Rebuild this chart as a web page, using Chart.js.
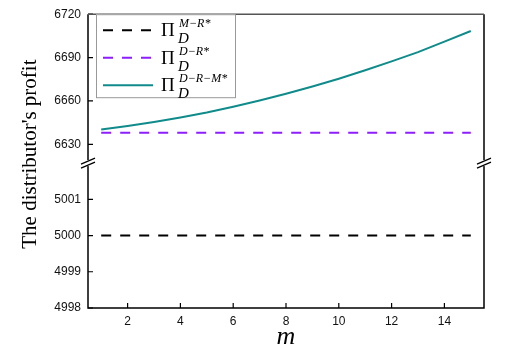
<!DOCTYPE html>
<html>
<head>
<meta charset="utf-8">
<script src="https://cdn.jsdelivr.net/npm/chart.js@4"></script>
<style>
    html, body { margin: 0; padding: 0; background: #fff; }
</style>
</head>
<body>
<canvas id="profitChart" width="506" height="361"></canvas>
<script>
// data
const mValues = [1, 2, 3, 4, 5, 6, 7, 8, 9, 10, 11, 12, 13, 14, 15];
const profitMR = [5000, 5000, 5000, 5000, 5000, 5000, 5000, 5000, 5000, 5000, 5000, 5000, 5000, 5000, 5000];
const profitDR = [6638, 6638, 6638, 6638, 6638, 6638, 6638, 6638, 6638, 6638, 6638, 6638, 6638, 6638, 6638];
const profitDRM = [6640.2, 6642.6, 6645.4, 6648.6, 6652.0, 6656.0, 6660.3, 6665.0, 6670.0, 6675.4, 6681.2, 6687.4, 6693.8, 6701.0, 6708.4];

const seriesSup = ['M\u2212R*', 'D\u2212R*', 'D\u2212R\u2212M*'];
const upperTicks = [6630, 6660, 6690, 6720];
const lowerTicks = [4998, 4999, 5000, 5001];
const xTicks = [2, 4, 6, 8, 10, 12, 14];

const tickFont = { family: '"Liberation Sans", Arial, sans-serif', size: 12 };
const serif = '"Liberation Serif", "Times New Roman", serif';

function points(ys) {
    return mValues.map((m, i) => ({ x: m, y: ys[i] }));
}

// frame, inward ticks, axis breaks, legend and y title
const decorPlugin = {
    id: 'decor',
    afterDraw(chart) {
        const ctx = chart.ctx;
        const area = chart.chartArea;
        const sx = chart.scales.x, yHi = chart.scales.yHigh, yLo = chart.scales.yLow;
        ctx.save();

        // inward tick marks
        ctx.strokeStyle = '#000';
        ctx.lineWidth = 1.2;
        ctx.beginPath();
        xTicks.forEach(v => {
            const px = sx.getPixelForValue(v);
            ctx.moveTo(px, area.bottom);
            ctx.lineTo(px, area.bottom - 5);
        });
        upperTicks.forEach(v => {
            const py = yHi.getPixelForValue(v);
            ctx.moveTo(area.left, py);
            ctx.lineTo(area.left + 5, py);
        });
        lowerTicks.forEach(v => {
            const py = yLo.getPixelForValue(v);
            ctx.moveTo(area.left, py);
            ctx.lineTo(area.left + 5, py);
        });
        ctx.stroke();

        // frame
        ctx.lineWidth = 1.5;
        ctx.strokeStyle = '#000';
        ctx.beginPath();
        ctx.moveTo(area.left, area.top);
        ctx.lineTo(area.left, area.bottom);
        ctx.lineTo(area.right, area.bottom);
        ctx.lineTo(area.right, area.top);
        ctx.stroke();
        ctx.strokeStyle = '#555';
        ctx.beginPath();
        ctx.moveTo(area.left, area.top);
        ctx.lineTo(area.right, area.top);
        ctx.stroke();

        // axis breaks
        const by = yHi.bottom;
        [area.left, area.right].forEach(bx => {
            ctx.fillStyle = '#fff';
            ctx.fillRect(bx - 3, by - 3, 6, 6);
            ctx.strokeStyle = '#000';
            ctx.lineWidth = 1.2;
            ctx.beginPath();
            ctx.moveTo(bx - 7, by + 1);
            ctx.lineTo(bx + 7, by - 5);
            ctx.moveTo(bx - 7, by + 5);
            ctx.lineTo(bx + 7, by - 1);
            ctx.stroke();
        });

        // legend
        const lx = area.left + 8, ly = area.top;
        ctx.fillStyle = '#fff';
        ctx.fillRect(lx, ly, 139, 83);
        ctx.strokeStyle = '#999';
        ctx.lineWidth = 1;
        ctx.strokeRect(lx + 0.5, ly + 0.5, 139, 83);
        chart.data.datasets.forEach((ds, i) => {
            const ry = ly + 16 + i * 27.5;
            ctx.strokeStyle = ds.borderColor;
            ctx.lineWidth = 2;
            ctx.setLineDash(ds.borderDash || []);
            ctx.beginPath();
            ctx.moveTo(lx + 7, ry);
            ctx.lineTo(lx + 57, ry);
            ctx.stroke();
            ctx.setLineDash([]);
            ctx.fillStyle = '#000';
            ctx.textAlign = 'left';
            ctx.textBaseline = 'alphabetic';
            ctx.font = '19px ' + serif;
            ctx.fillText('\u03A0', lx + 65, ry + 6);
            ctx.font = 'italic 12px ' + serif;
            ctx.fillText(seriesSup[i], lx + 83, ry - 3);
            ctx.font = 'italic 15px ' + serif;
            ctx.fillText('D', lx + 82, ry + 13);
        });

        // y title
        ctx.translate(30, (area.top + area.bottom) / 2 - 7);
        ctx.rotate(-Math.PI / 2);
        ctx.fillStyle = '#000';
        ctx.textAlign = 'center';
        ctx.textBaseline = 'middle';
        ctx.font = '21px ' + serif;
        ctx.fillText("The distributor's profit", 0, 0);
        ctx.restore();
    }
};

const yCommon = {
    type: 'linear',
    position: 'left',
    stack: 'y',
    grid: { display: false, drawTicks: false },
    border: { display: false },
    ticks: { padding: 7, color: '#111', font: tickFont, callback: v => String(v) },
    afterFit: s => { s.width = 40; }
};

const ctx = document.getElementById('profitChart').getContext('2d');
const profitChart = new Chart(ctx, {
    type: 'line',
    data: {
        datasets: [{
            label: '\u03A0_D^{M\u2212R*}',
            data: points(profitMR),
            yAxisID: 'yLow',
            borderColor: '#000000',
            borderDash: [10, 9],
            borderWidth: 2,
            pointRadius: 0
        }, {
            label: '\u03A0_D^{D\u2212R*}',
            data: points(profitDR),
            yAxisID: 'yHigh',
            borderColor: '#8c1eff',
            borderDash: [10, 9],
            borderWidth: 2,
            pointRadius: 0
        }, {
            label: '\u03A0_D^{D\u2212R\u2212M*}',
            data: points(profitDRM),
            yAxisID: 'yHigh',
            borderColor: '#0f8b8b',
            borderWidth: 2,
            pointRadius: 0
        }]
    },
    options: {
        responsive: false,
        animation: false,
        layout: { padding: { left: 48, right: 22, top: 14, bottom: 0 } },
        plugins: { legend: { display: false }, tooltip: { enabled: false } },
        scales: {
            x: {
                type: 'linear',
                min: 0.5,
                max: 15.5,
                grid: { display: false, drawTicks: false },
                border: { display: false },
                afterBuildTicks: s => { s.ticks = xTicks.map(v => ({ value: v })); },
                ticks: { padding: 6, color: '#111', font: tickFont, callback: v => String(v) },
                title: {
                    display: true,
                    text: 'm',
                    color: '#000',
                    font: { family: serif, style: 'italic', size: 26 },
                    padding: { top: 0, bottom: 8 }
                },
                afterFit: s => { s.height = 53; }
            },
            yLow: Object.assign({}, yCommon, {
                stackWeight: 145,
                min: 4998,
                max: 5002,
                afterBuildTicks: s => { s.ticks = lowerTicks.map(v => ({ value: v })); }
            }),
            yHigh: Object.assign({}, yCommon, {
                stackWeight: 149,
                min: 6617,
                max: 6720,
                afterBuildTicks: s => { s.ticks = upperTicks.map(v => ({ value: v })); }
            })
        }
    },
    plugins: [decorPlugin]
});
</script>
</body>
</html>
